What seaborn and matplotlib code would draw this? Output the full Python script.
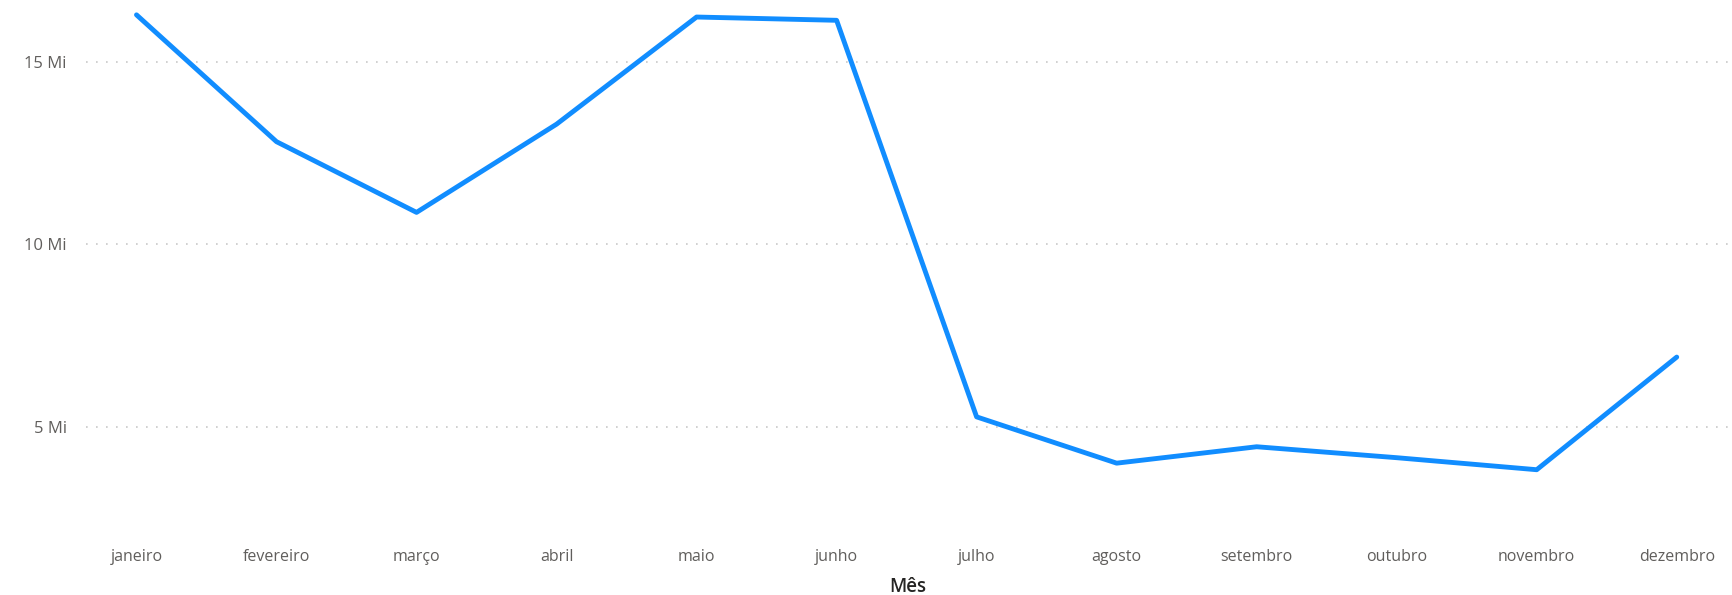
import pandas as pd
import numpy as np
import seaborn as sns
import matplotlib.pyplot as plt
from matplotlib.ticker import FuncFormatter

# Monthly values (millions)
meses = ['janeiro', 'fevereiro', 'março', 'abril', 'maio', 'junho',
         'julho', 'agosto', 'setembro', 'outubro', 'novembro', 'dezembro']
valores = [16.30, 12.82, 10.88, 13.30, 16.24, 16.15,
           5.27, 4.00, 4.45, 4.15, 3.82, 6.91]
y_ticks = [5, 10, 15]

df = pd.DataFrame({'Mês': meses, 'Valor': valores})

sns.set_style('white')
plt.rcParams['font.family'] = ['Open Sans', 'DejaVu Sans']

fig = plt.figure(figsize=(17.32, 5.95), dpi=100)
ax = fig.add_axes([0.0497, 0.096, 0.9483, 0.8956])

sns.lineplot(data=df, x='Mês', y='Valor', sort=False, color='#118DFF',
             linewidth=3.5, ax=ax)

ax.set_xlim(-0.36, 11.37)
ax.set_ylim(1.95, 16.57)
ax.set_yticks(y_ticks)
ax.yaxis.set_major_formatter(FuncFormatter(lambda v, p: f"{v:.0f} Mi"))
ax.grid(axis='y', linestyle=(0, (1, 5)), color='#C8C8C8', linewidth=1.2)
ax.grid(axis='x', visible=False)
for s in ax.spines.values():
    s.set_visible(False)

ax.tick_params(axis='y', length=0, pad=14, labelsize=12, labelcolor='#605E5C')
ax.tick_params(axis='x', length=0, pad=8, labelsize=11.5, labelcolor='#605E5C')
ax.set_ylabel('')
ax.set_xlabel('Mês', fontsize=13.5, color='#252423', fontweight='semibold',
              labelpad=9)

fig.savefig('out.png', dpi=100)
